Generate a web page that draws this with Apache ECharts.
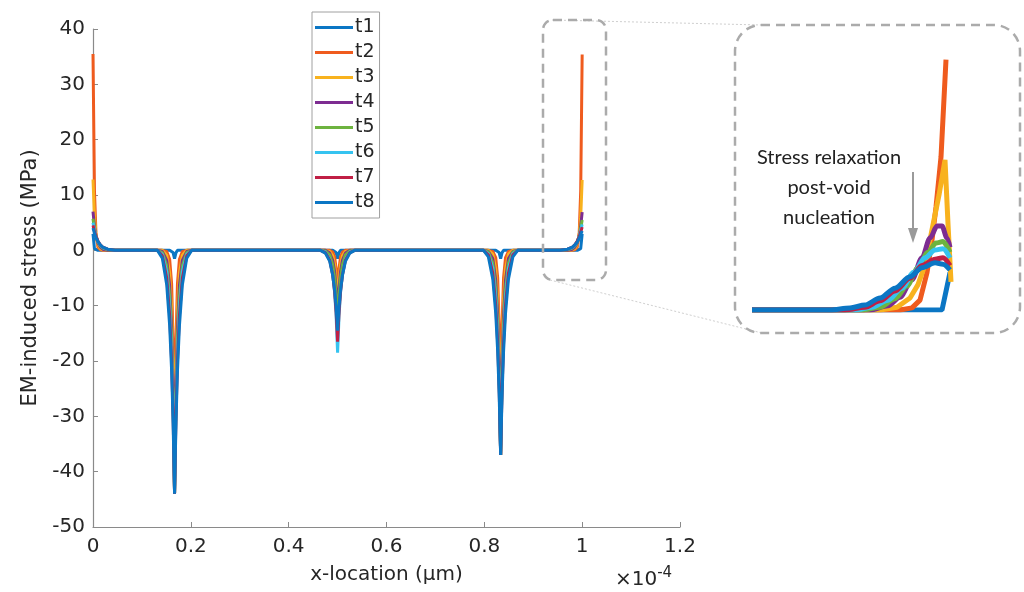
<!DOCTYPE html>
<html>
<head>
<meta charset="utf-8">
<script src="https://cdn.jsdelivr.net/npm/echarts@6/dist/echarts.min.js"></script>
<style>
  html, body { margin: 0; padding: 0; background: #fff; }
  #main { width: 1024px; height: 592px; }
</style>
</head>
<body>
<div id="main"></div>
<script>
// x positions (units of 1e-4), shared by all main-plot curves
var xs = [0, 0.003, 0.006, 0.01, 0.015, 0.02, 0.03, 0.045,
  0.09,
  0.1317, 0.1417, 0.1507, 0.1567, 0.1607, 0.1637, 0.1667, 0.1697, 0.1727, 0.1767, 0.1827, 0.1917, 0.2017,
  0.33,
  0.465, 0.475, 0.484, 0.490, 0.494, 0.497, 0.5, 0.503, 0.506, 0.510, 0.516, 0.525, 0.535,
  0.67,
  0.7983, 0.8083, 0.8173, 0.8233, 0.8273, 0.8303, 0.8333, 0.8363, 0.8393, 0.8433, 0.8493, 0.8583, 0.8683,
  0.91,
  0.955, 0.97, 0.98, 0.985, 0.99, 0.994, 0.997, 1.0];

var t1 = [3, 0.3, 0, 0, 0, 0, 0, 0,
  0,
  0, 0, 0, 0, 0, -0.4, -1.5, -0.4, 0, 0, 0, 0, 0,
  0,
  0, 0, 0, 0, 0, -0.4, -1.5, -0.4, 0, 0, 0, 0, 0,
  0,
  0, 0, 0, 0, 0, -0.4, -1.5, -0.4, 0, 0, 0, 0, 0,
  0,
  0, 0, 0, 0, 0, 0, 0.3, 3];
var t2 = [35.5, 10.7, 3.2, 0.6, 0.1, 0, 0, 0,
  0,
  0, 0, -0.2, -1.6, -6.0, -16.2, -44, -16.2, -6.0, -1.6, -0.2, 0, 0,
  0,
  0, 0, 0, -0.3, -1.2, -3.3, -9, -3.3, -1.2, -0.3, 0, 0, 0,
  0,
  0, 0, -0.2, -1.3, -5.0, -13.6, -37, -13.6, -5.0, -1.3, -0.2, 0, 0,
  0,
  0, 0, 0, 0.1, 0.6, 3.2, 10.7, 35.4];
var t3 = [12.8, 6.0, 2.9, 1.0, 0.3, 0.1, 0, 0,
  0,
  0, 0, -0.9, -4.1, -10.5, -21.5, -44, -21.5, -10.5, -4.1, -0.9, 0, 0,
  0,
  0, 0, -0.2, -1.0, -2.6, -5.4, -11, -5.4, -2.6, -1.0, -0.2, 0, 0,
  0,
  0, 0, -0.7, -3.4, -8.8, -18.1, -37, -18.1, -8.8, -3.4, -0.7, 0, 0,
  0,
  0, 0, 0.1, 0.3, 1.0, 2.9, 6.0, 12.7];
var t4 = [7.0, 4.3, 2.6, 1.3, 0.6, 0.2, 0, 0,
  0,
  0, -0.2, -1.8, -6.4, -13.9, -24.7, -44, -24.7, -13.9, -6.4, -1.8, -0.2, 0,
  0,
  0, 0, -0.5, -1.8, -3.9, -7.0, -12.5, -7.0, -3.9, -1.8, -0.5, 0, 0,
  0,
  0, -0.2, -1.5, -5.4, -11.7, -20.8, -37, -20.8, -11.7, -5.4, -1.5, -0.2, 0,
  0,
  0, 0, 0.2, 0.6, 1.3, 2.6, 4.3, 6.9];
var t5 = [5.7, 3.9, 2.6, 1.5, 0.8, 0.4, 0.1, 0,
  0,
  0, -0.4, -2.8, -8.3, -16.2, -26.7, -44, -26.7, -16.2, -8.3, -2.8, -0.4, 0,
  0,
  0, -0.1, -0.8, -2.6, -5.0, -8.2, -13.5, -8.2, -5.0, -2.6, -0.8, -0.1, 0,
  0,
  0, -0.3, -2.3, -7.0, -13.6, -22.5, -37, -22.5, -13.6, -7.0, -2.3, -0.3, 0,
  0,
  0, 0.1, 0.4, 0.8, 1.5, 2.6, 3.9, 5.5];
var t6 = [5.0, 3.7, 2.6, 1.6, 0.9, 0.5, 0.2, 0,
  0,
  0, -0.7, -3.8, -10.1, -18.2, -28.3, -44, -28.3, -18.2, -10.1, -3.8, -0.7, 0,
  0,
  0, -0.3, -1.6, -4.3, -7.7, -11.9, -18.5, -11.9, -7.7, -4.3, -1.6, -0.3, 0,
  0,
  0, -0.6, -3.2, -8.5, -15.3, -23.8, -37, -23.8, -15.3, -8.5, -3.2, -0.6, 0,
  0,
  0, 0.2, 0.5, 0.9, 1.6, 2.6, 3.6, 4.7];
var t7 = [4.5, 3.4, 2.6, 1.7, 1.0, 0.6, 0.2, 0,
  0,
  0, -1.0, -5.0, -11.8, -20.0, -29.6, -44, -29.6, -20.0, -11.8, -5.0, -1.0, 0,
  0,
  0, -0.4, -1.8, -4.4, -7.5, -11.1, -16.5, -11.1, -7.5, -4.4, -1.8, -0.4, 0,
  0,
  0, -0.8, -4.1, -9.9, -16.8, -24.9, -37, -24.9, -16.8, -9.9, -4.1, -0.8, 0,
  0,
  0, 0.2, 0.6, 1.0, 1.7, 2.5, 3.3, 4.2];
var t8 = [4.0, 3.1, 2.3, 1.6, 1.0, 0.6, 0.2, 0,
  0,
  0, -1.4, -6.2, -13.6, -21.7, -30.9, -44, -30.9, -21.7, -13.6, -6.2, -1.4, 0,
  0,
  0, -0.5, -2.0, -4.5, -7.2, -10.2, -14.5, -10.2, -7.2, -4.5, -2.0, -0.5, 0,
  0,
  0, -1.2, -5.2, -11.4, -18.3, -26.0, -37, -26.0, -18.3, -11.4, -5.2, -1.2, 0,
  0,
  0, 0.2, 0.6, 1.0, 1.5, 2.2, 2.9, 3.5];

// zoomed inset near the right end (x in 1e-4, y in inset units)
var inset1 = [[0.9, 0], [0.995, 0], [0.999, 5.3]];
var inset2 = [[0.9, 0], [0.974, 0], [0.980, 0.3], [0.984, 1.4], [0.9875, 5.3], [0.990, 9.9], [0.992, 14.6], [0.9945, 21.7], [0.997, 35.5]];
var inset3 = [[0.9, 0], [0.964, 0], [0.9725, 0.4], [0.979, 1.7], [0.983, 3.6], [0.9865, 6.4], [0.990, 11.4], [0.9935, 16.3], [0.9965, 21.3], [0.998, 12.2], [0.9995, 4.0]];
var inset4 = [[0.9, 0], [0.959, 0], [0.968, 0.6], [0.974, 1.8], [0.980, 4.3], [0.985, 7.4], [0.989, 10.2], [0.9925, 11.9], [0.995, 11.9], [0.9975, 10.2], [0.999, 8.9]];
var inset5 = [[0.9, 0], [0.955, 0], [0.964, 0.4], [0.9715, 1.6], [0.9775, 3.4], [0.983, 6.0], [0.988, 8.2], [0.992, 9.5], [0.9955, 9.7], [0.999, 8.2]];
var inset6 = [[0.9, 0], [0.9515, 0], [0.960, 0.4], [0.968, 1.4], [0.975, 3.1], [0.981, 5.4], [0.9865, 7.4], [0.9915, 8.5], [0.9955, 8.7], [0.999, 7.4]];
var inset7 = [[0.9, 0], [0.9465, 0], [0.9565, 0.4], [0.964, 1.3], [0.9715, 2.7], [0.979, 4.5], [0.985, 6.3], [0.9915, 7.2], [0.9955, 7.4], [0.999, 6.3]];
var inset8 = [[0.9, 0], [0.939, 0], [0.949, 0.3], [0.9565, 0.7], [0.964, 1.7], [0.9715, 3.1], [0.979, 4.7], [0.985, 6.0], [0.9915, 6.7], [0.9955, 6.5], [0.999, 5.7]];

var names = ['t1', 't2', 't3', 't4', 't5', 't6', 't7', 't8'];
var colors = ['#0B76C4', '#EF5B1E', '#F8B21E', '#7D2C91', '#6DB33F', '#35C3F0', '#C01F45', '#0B76C4'];
var mainData = [t1, t2, t3, t4, t5, t6, t7, t8];
var insetData = [inset1, inset2, inset3, inset4, inset5, inset6, inset7, inset8];
var noteLines = ['Stress relaxation', 'post-void', 'nucleation'];

var font = '"DejaVu Sans", sans-serif';
var axisGray = '#8a8a8a';
var textCol = '#262626';

var dom = document.getElementById('main');
var myChart = echarts.init(dom, null, { renderer: 'canvas' });

var series = [];
mainData.forEach(function (vals, k) {
  series.push({
    name: names[k],
    type: 'line',
    xAxisIndex: 0,
    yAxisIndex: 0,
    showSymbol: false,
    animation: false,
    lineStyle: { width: 3, color: colors[k] },
    itemStyle: { color: colors[k] },
    data: xs.map(function (x, i) { return [x, vals[i]]; })
  });
});
insetData.forEach(function (pts, k) {
  series.push({
    name: 'inset-' + names[k],
    type: 'line',
    xAxisIndex: 1,
    yAxisIndex: 1,
    showSymbol: false,
    animation: false,
    smooth: k >= 3 ? 0.3 : false,
    smoothMonotone: 'x',
    lineStyle: { width: 5, color: colors[k] },
    data: pts
  });
});

var graphics = [
  {
    type: 'text', left: 615, top: 566, z: 10,
    style: {
      text: '\u00d710{s|-4}',
      font: '20px ' + font,
      fill: textCol,
      rich: { s: { fontSize: 15, fontFamily: 'DejaVu Sans', fill: textCol, verticalAlign: 'top', padding: [0, 0, 12, 0] } }
    }
  },
  {
    type: 'rect', z: 10,
    shape: { x: 543, y: 20, width: 63, height: 260, r: 10 },
    style: { fill: 'none', stroke: '#ababab', lineWidth: 2.5, lineDash: [9, 6] }
  },
  {
    type: 'rect', z: 10,
    shape: { x: 735, y: 25, width: 285, height: 308, r: 26 },
    style: { fill: 'none', stroke: '#ababab', lineWidth: 2.5, lineDash: [9, 6] }
  },
  {
    type: 'line', z: 9,
    shape: { x1: 552, y1: 20, x2: 762, y2: 25 },
    style: { stroke: '#cfcfcf', lineWidth: 1, lineDash: [2, 2] }
  },
  {
    type: 'line', z: 9,
    shape: { x1: 550, y1: 280, x2: 762, y2: 333 },
    style: { stroke: '#cfcfcf', lineWidth: 1, lineDash: [2, 2] }
  },
  {
    type: 'line', z: 10,
    shape: { x1: 913, y1: 172, x2: 913, y2: 232 },
    style: { stroke: '#9a9a9a', lineWidth: 2 }
  },
  {
    type: 'polygon', z: 10,
    shape: { points: [[908, 228], [918, 228], [913, 243]] },
    style: { fill: '#9a9a9a' }
  }
];
noteLines.forEach(function (s, i) {
  graphics.push({
    type: 'text', z: 10,
    style: {
      x: 829, y: 158 + i * 30,
      text: s,
      font: '20px Lato, "Open Sans", sans-serif',
      fill: '#222',
      align: 'center',
      verticalAlign: 'middle'
    }
  });
});

var option = {
  backgroundColor: '#fff',
  animation: false,
  textStyle: { fontFamily: font },
  legend: {
    data: names,
    orient: 'vertical',
    left: 312,
    top: 12,
    padding: [6, 5, 6, 3],
    itemGap: 6,
    itemWidth: 38,
    itemHeight: 3,
    icon: 'rect',
    backgroundColor: '#fff',
    borderColor: '#a0a0a0',
    borderWidth: 1,
    textStyle: { fontFamily: font, fontSize: 19, color: textCol, lineHeight: 18, height: 18, padding: [0, 0, 0, -3] }
  },
  grid: [
    { left: 93, right: 344, top: 29, bottom: 65 },
    { left: 752, width: 200, top: 28, bottom: 282 }
  ],
  xAxis: [
    {
      type: 'value', gridIndex: 0, min: 0, max: 1.2, interval: 0.2,
      name: 'x-location (\u00b5m)', nameLocation: 'middle', nameGap: 38,
      nameTextStyle: { fontSize: 20, color: textCol },
      axisLine: { onZero: false, lineStyle: { color: axisGray, width: 1.2 } },
      axisTick: { inside: true, length: 5, lineStyle: { color: axisGray } },
      axisLabel: { fontSize: 20, color: textCol, margin: 10 },
      splitLine: { show: false }
    },
    {
      type: 'value', gridIndex: 1, min: 0.9, max: 1.0, show: false,
      splitLine: { show: false }
    }
  ],
  yAxis: [
    {
      type: 'value', gridIndex: 0, min: -50, max: 40, interval: 10,
      name: 'EM-induced stress (MPa)', nameLocation: 'middle', nameGap: 50,
      nameTextStyle: { fontSize: 21, color: textCol },
      axisLine: { show: true, onZero: false, lineStyle: { color: axisGray, width: 1.2 } },
      axisTick: { show: true, inside: true, length: 5, lineStyle: { color: axisGray } },
      axisLabel: { fontSize: 20, color: textCol, margin: 8 },
      splitLine: { show: false }
    },
    {
      type: 'value', gridIndex: 1, min: 0, max: 40, show: false,
      splitLine: { show: false }
    }
  ],
  graphic: graphics,
  series: series
};

myChart.setOption(option);
window.addEventListener('resize', myChart.resize);
</script>
</body>
</html>
